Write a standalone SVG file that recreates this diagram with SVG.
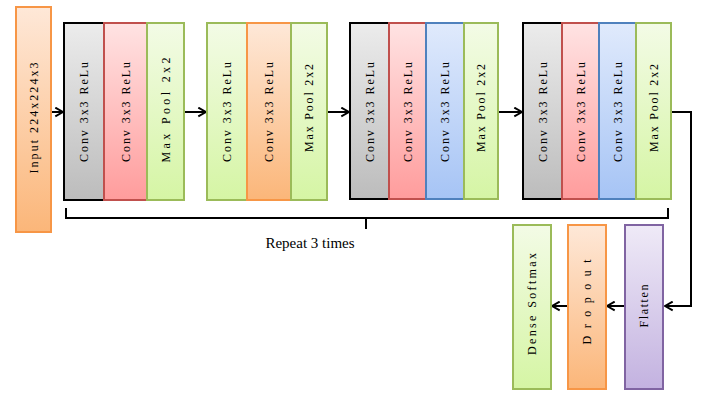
<svg xmlns="http://www.w3.org/2000/svg" width="701" height="394" viewBox="0 0 701 394">
<style>
.lbl{font-family:"Liberation Serif","Times New Roman",serif;font-size:12px;fill:#000;text-anchor:middle;dominant-baseline:central}
.cap{font-family:"Liberation Serif","Times New Roman",serif;font-size:15px;fill:#000;text-anchor:middle}
.conn{fill:none;stroke:#000;stroke-width:2}
.gray{fill:url(#gGray);stroke:#000;stroke-width:2}
.red{fill:url(#gRed);stroke:#c0504d;stroke-width:2}
.green{fill:url(#gGreen);stroke:#9bbb59;stroke-width:2}
.orange{fill:url(#gOrange);stroke:#f79646;stroke-width:2}
.blue{fill:url(#gBlue);stroke:#4f81bd;stroke-width:2}
.purple{fill:url(#gPurple);stroke:#8064a2;stroke-width:2}
</style>
<defs>
<linearGradient id="gGray" x1="0" y1="0" x2="0" y2="1"><stop offset="0" stop-color="#ececec"/><stop offset="1" stop-color="#bcbcbc"/></linearGradient>
<linearGradient id="gRed" x1="0" y1="0" x2="0" y2="1"><stop offset="0" stop-color="#ffe3e3"/><stop offset="1" stop-color="#ff9c9c"/></linearGradient>
<linearGradient id="gGreen" x1="0" y1="0" x2="0" y2="1"><stop offset="0" stop-color="#f3fbe6"/><stop offset="1" stop-color="#d5f5a4"/></linearGradient>
<linearGradient id="gOrange" x1="0" y1="0" x2="0" y2="1"><stop offset="0" stop-color="#fee8d8"/><stop offset="1" stop-color="#fbb679"/></linearGradient>
<linearGradient id="gBlue" x1="0" y1="0" x2="0" y2="1"><stop offset="0" stop-color="#e0eafc"/><stop offset="1" stop-color="#a6c4f5"/></linearGradient>
<linearGradient id="gPurple" x1="0" y1="0" x2="0" y2="1"><stop offset="0" stop-color="#efeaf7"/><stop offset="1" stop-color="#c3b2e0"/></linearGradient>
<marker id="arr" viewBox="0 0 10 10" refX="9" refY="5" markerWidth="11" markerHeight="11" orient="auto" markerUnits="userSpaceOnUse">
<polyline points="2,1 9,5 2,9" fill="none" stroke="#000" stroke-width="1.8"/>
</marker>
</defs>

<g id="connectors">
<line class="conn" x1="51" y1="112" x2="63" y2="112" marker-end="url(#arr)"/>
<line class="conn" x1="184" y1="112" x2="206" y2="112" marker-end="url(#arr)"/>
<line class="conn" x1="327" y1="112" x2="349" y2="112" marker-end="url(#arr)"/>
<line class="conn" x1="498" y1="112" x2="522" y2="112" marker-end="url(#arr)"/>
<polyline class="conn" points="671,112 691,112 691,306 665,306" marker-end="url(#arr)"/>
<line class="conn" x1="625" y1="306" x2="607" y2="306" marker-end="url(#arr)"/>
<line class="conn" x1="568" y1="306" x2="552" y2="306" marker-end="url(#arr)"/>
<polyline class="conn" points="66,208 66,218 668,218 668,208"/>
<line class="conn" x1="366" y1="218" x2="366" y2="229"/>
</g>

<g id="input">
<rect class="orange" x="16" y="7" width="35" height="225"/>
<text class="lbl" transform="translate(33.5,118) rotate(-90)" textLength="111" lengthAdjust="spacing">Input 224x224x3</text>
</g>

<g id="b1-conv1"><rect class="gray" x="64" y="23" width="40" height="177"/>
<text class="lbl" transform="translate(84,112) rotate(-90)" textLength="100" lengthAdjust="spacing">Conv 3x3 ReLu</text></g>
<g id="b1-conv2"><rect class="red" x="104" y="23" width="43" height="177"/>
<text class="lbl" transform="translate(125.5,112) rotate(-90)" textLength="100" lengthAdjust="spacing">Conv 3x3 ReLu</text></g>
<g id="b1-pool"><rect class="green" x="147" y="23" width="37" height="177"/>
<text class="lbl" transform="translate(165.5,110) rotate(-90)" textLength="105" lengthAdjust="spacing">Max Pool 2x2</text></g>

<g id="b2-conv1"><rect class="green" x="207" y="23" width="40" height="177"/>
<text class="lbl" transform="translate(227,112) rotate(-90)" textLength="100" lengthAdjust="spacing">Conv 3x3 ReLu</text></g>
<g id="b2-conv2"><rect class="orange" x="247" y="23" width="44" height="177"/>
<text class="lbl" transform="translate(269,112) rotate(-90)" textLength="100" lengthAdjust="spacing">Conv 3x3 ReLu</text></g>
<g id="b2-pool"><rect class="green" x="291" y="23" width="36" height="177"/>
<text class="lbl" transform="translate(309,108) rotate(-90)" textLength="88" lengthAdjust="spacing">Max Pool 2x2</text></g>

<g id="b3-conv1"><rect class="gray" x="350" y="23" width="39" height="176"/>
<text class="lbl" transform="translate(369.5,112) rotate(-90)" textLength="100" lengthAdjust="spacing">Conv 3x3 ReLu</text></g>
<g id="b3-conv2"><rect class="red" x="389" y="23" width="37" height="176"/>
<text class="lbl" transform="translate(407.5,112) rotate(-90)" textLength="100" lengthAdjust="spacing">Conv 3x3 ReLu</text></g>
<g id="b3-conv3"><rect class="blue" x="426" y="23" width="38" height="176"/>
<text class="lbl" transform="translate(445,112) rotate(-90)" textLength="100" lengthAdjust="spacing">Conv 3x3 ReLu</text></g>
<g id="b3-pool"><rect class="green" x="464" y="23" width="34" height="176"/>
<text class="lbl" transform="translate(481,108) rotate(-90)" textLength="88" lengthAdjust="spacing">Max Pool 2x2</text></g>

<g id="b4-conv1"><rect class="gray" x="523" y="23" width="39" height="176"/>
<text class="lbl" transform="translate(542.5,112) rotate(-90)" textLength="100" lengthAdjust="spacing">Conv 3x3 ReLu</text></g>
<g id="b4-conv2"><rect class="red" x="562" y="23" width="37" height="176"/>
<text class="lbl" transform="translate(580.5,112) rotate(-90)" textLength="100" lengthAdjust="spacing">Conv 3x3 ReLu</text></g>
<g id="b4-conv3"><rect class="blue" x="599" y="23" width="37" height="176"/>
<text class="lbl" transform="translate(617.5,112) rotate(-90)" textLength="100" lengthAdjust="spacing">Conv 3x3 ReLu</text></g>
<g id="b4-pool"><rect class="green" x="636" y="23" width="35" height="176"/>
<text class="lbl" transform="translate(653.5,108) rotate(-90)" textLength="88" lengthAdjust="spacing">Max Pool 2x2</text></g>

<g id="flatten"><rect class="purple" x="625" y="225" width="38" height="164"/>
<text class="lbl" transform="translate(644,306) rotate(-90)" textLength="43" lengthAdjust="spacing">Flatten</text></g>
<g id="dropout"><rect class="orange" x="568" y="225" width="38" height="164"/>
<text class="lbl" transform="translate(587,302) rotate(-90)" textLength="85" lengthAdjust="spacing">Dropout</text></g>
<g id="dense"><rect class="green" x="513" y="225" width="38" height="164"/>
<text class="lbl" transform="translate(532,304) rotate(-90)" textLength="102" lengthAdjust="spacing">Dense Softmax</text></g>

<text class="cap" x="310" y="248">Repeat 3 times</text>
</svg>
